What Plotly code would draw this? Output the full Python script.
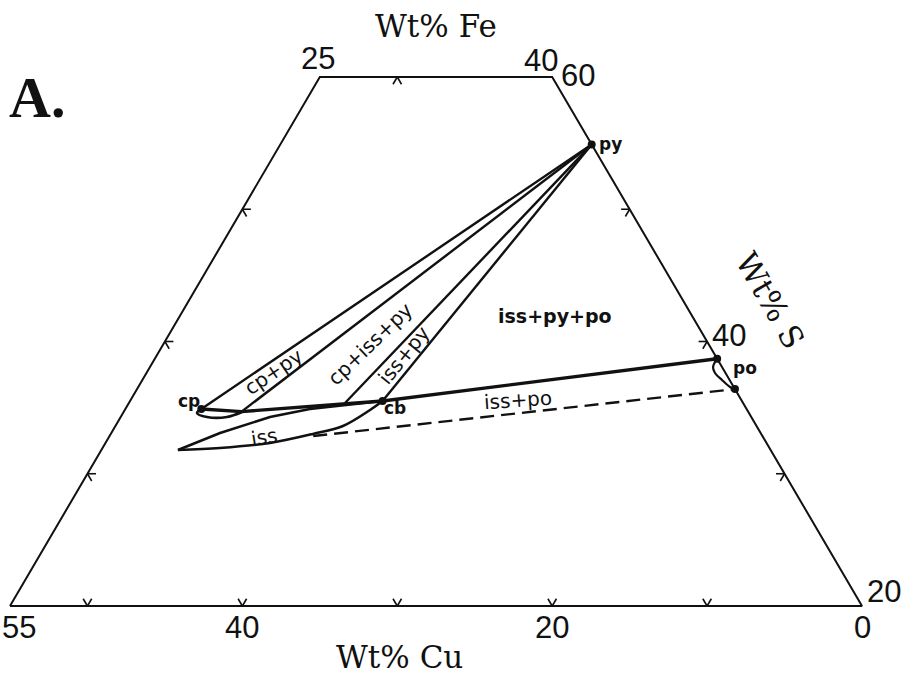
import numpy as np
import plotly.graph_objects as go

# Cu-Fe-S ternary section (wt%), S from 20 to 60, Fe >= 25
SQ3 = np.sqrt(3) / 2


def tern(cu, s):
    """Composition (wt% Cu, wt% S) -> cartesian position in the ternary plane."""
    cu = np.asarray(cu, dtype=float)
    s = np.asarray(s, dtype=float)
    return (100 - cu - s / 2).tolist(), (s * SQ3).tolist()


# ---- data -------------------------------------------------------------
frame_cu = [55, 0, 0, 15, 55]
frame_s = [20, 20, 60, 60, 20]

bottom_tick_cu = [50, 40, 30, 20, 10]   # along S = 20
top_tick_fe = [30]                      # along S = 60
left_tick_s = [30, 40, 50]              # along Fe = 25
right_tick_s = [30, 40, 50]             # along Cu = 0

bottom_label_cu = [55, 40, 20, 0]
top_label_fe = [25, 40]
right_label_s = [60, 40, 20]

# phases (Cu, S)
py_pt = (0.0, 54.9)
cp_pt = (35.2, 34.9)
cb_pt = (23.2, 35.5)
po_hi = (0.0, 38.7)
po_lo = (0.0, 36.4)

# tie lines radiating from pyrite
fan_end_cu = [35.2, 32.7, 25.7, 23.2]
fan_end_s = [34.9, 34.7, 35.35, 35.5]

# cp - cb - po boundary
edge_cu = [35.2, 32.7, 23.2, 0.0]
edge_s = [34.9, 34.7, 35.5, 38.7]

# chalcopyrite field, lower limb
cp_low_cu = [35.2, 35.63, 35.14, 33.85, 32.69]
cp_low_s = [34.9, 34.59, 34.29, 34.29, 34.67]

# iss field
iss_up_cu = [38.26, 34.90, 31.07, 28.19, 23.2]
iss_up_s = [31.80, 33.08, 34.29, 34.90, 35.5]
iss_low_cu = [38.26, 35.47, 32.05, 28.94, 26.70, 24.35, 23.2]
iss_low_s = [31.80, 31.95, 32.33, 33.01, 33.61, 34.82, 35.5]

# iss - po tie line (dashed)
dash_cu = [29.0, 0.0]
dash_s = [32.85, 36.4]

# pyrrhotite field
po_cu = [0.0, 0.58, 0.68, 0.49, 0.24, 0.0]
po_s = [38.7, 38.07, 37.62, 37.09, 36.56, 36.4]

INK = "#111111"
fig = go.Figure()


def add_line(cu, s, width, dash="solid", shape="linear"):
    x, y = tern(cu, s)
    fig.add_trace(go.Scatter(x=x, y=y, mode="lines", hoverinfo="skip",
                             line=dict(color=INK, width=width, dash=dash, shape=shape)))


# frame
add_line(frame_cu, frame_s, 2)

# ticks: two short strokes along the grid directions, pointing inward
d = 0.55
tx, ty = [], []


def stroke(cu0, s0, dcu, ds):
    x, y = tern([cu0, cu0 + dcu], [s0, s0 + ds])
    tx.extend(x + [None])
    ty.extend(y + [None])


for cu in bottom_tick_cu:
    stroke(cu, 20, -d, d)
    stroke(cu, 20, 0, d)
for fe in top_tick_fe:
    stroke(100 - fe - 60, 60, d, -d)
    stroke(100 - fe - 60, 60, 0, -d)
for s in left_tick_s:
    stroke(75 - s, s, -d, 0)
    stroke(75 - s, s, 0, -d)
for s in right_tick_s:
    stroke(0, s, d, 0)
    stroke(0, s, d, -d)
fig.add_trace(go.Scatter(x=tx, y=ty, mode="lines", hoverinfo="skip",
                         line=dict(color=INK, width=1.6)))

# tie lines from py
for cu_e, s_e in zip(fan_end_cu, fan_end_s):
    add_line([py_pt[0], cu_e], [py_pt[1], s_e], 2.4)

add_line(edge_cu, edge_s, 3.4)
add_line(cp_low_cu, cp_low_s, 2.6, shape="spline")
add_line(iss_up_cu, iss_up_s, 2.6)
add_line(iss_low_cu, iss_low_s, 2.6, shape="spline")
add_line(dash_cu, dash_s, 2.4, dash="14px,7px")
add_line(po_cu, po_s, 2.2, shape="spline")

# phase points
pts = [py_pt, cp_pt, cb_pt, po_hi, po_lo]
px_, py_ = tern([p[0] for p in pts], [p[1] for p in pts])
fig.add_trace(go.Scatter(x=px_, y=py_, mode="markers", hoverinfo="skip",
                         marker=dict(color=INK, size=8)))

ann = []
NUM = dict(family="Liberation Sans", size=31, color=INK)


def num_label(cu, s, text, dx, dy):
    x, y = tern([cu], [s])
    ann.append(dict(x=x[0], y=y[0], xref="x", yref="y", text=text, showarrow=False,
                    xshift=dx, yshift=dy, font=NUM))


for cu in bottom_label_cu:
    num_label(cu, 20, str(cu), 9 if cu == 55 else 0, -21)
num_label(100 - top_label_fe[0] - 60, 60, str(top_label_fe[0]), -2, 19)
num_label(100 - top_label_fe[1] - 60, 60, str(top_label_fe[1]), -11, 17)
num_label(0, right_label_s[0], str(right_label_s[0]), 26, 2)
num_label(0, right_label_s[1], str(right_label_s[1]), 22, 6)
num_label(0, right_label_s[2], str(right_label_s[2]), 22, 15)


def paper_text(px, py, text, font, angle=0):
    ann.append(dict(x=px / 907, y=1 - py / 680, xref="paper", yref="paper", text=text,
                    showarrow=False, textangle=angle, font=font,
                    xanchor="center", yanchor="middle"))


SERIF = dict(family="DejaVu Serif", size=31, color=INK)
paper_text(436, 26, "Wt% Fe", SERIF)
paper_text(399, 657, "Wt% Cu", SERIF)
paper_text(770, 300, "Wt% S", SERIF, angle=60)
paper_text(37, 98, "<b>A.</b>", dict(family="Liberation Serif", size=58, color=INK))

BOLD = dict(family="DejaVu Sans", size=17, color=INK)
paper_text(610, 144, "<b>py</b>", BOLD)
paper_text(745, 368, "<b>po</b>", BOLD)
paper_text(189, 401, "<b>cp</b>", BOLD)
paper_text(395, 408, "<b>cb</b>", BOLD)
paper_text(555, 316, "<b>iss+py+po</b>", dict(family="DejaVu Sans", size=19, color=INK))

REG = dict(family="DejaVu Sans", size=20, color=INK)
paper_text(273, 372, "cp+py", REG, angle=-34)
paper_text(370, 344, "cp+iss+py", REG, angle=-44)
paper_text(404, 355, "iss+py", REG, angle=-51)
paper_text(518, 400, "iss+po", REG, angle=-4)
paper_text(264, 437, "iss", REG, angle=-9)

fig.update_layout(
    width=907, height=680,
    margin=dict(l=0, r=0, t=0, b=0),
    paper_bgcolor="white", plot_bgcolor="white",
    showlegend=False,
    xaxis=dict(range=[34.3545, 92.905], visible=False, fixedrange=True),
    yaxis=dict(range=[12.4747, 57.0037], visible=False, fixedrange=True),
    annotations=ann,
)

fig.write_html("out.html")
